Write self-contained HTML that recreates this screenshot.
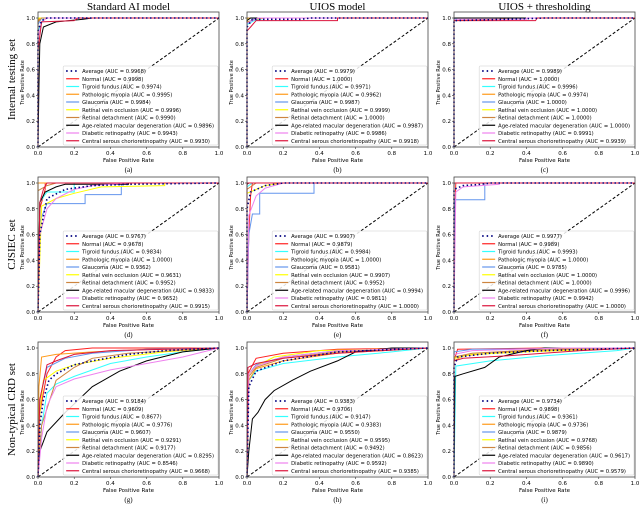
<!DOCTYPE html>
<html><head><meta charset="utf-8"><style>
body{margin:0;background:#fff;width:640px;height:505px;overflow:hidden}
svg{display:block}
.t{font-family:"Liberation Serif",serif}
.s{font-family:"DejaVu Sans","Liberation Sans",sans-serif}
</style></head><body>
<svg id="chart" width="640" height="505" viewBox="0 0 640 505" xmlns="http://www.w3.org/2000/svg"></svg>
<script>
const colTitles=["Standard AI model","UIOS model","UIOS + thresholding"];
const rowTitles=["Internal testing set","CJSIEC set","Non-typical CRD set"];
const captions=["(a)","(b)","(c)","(d)","(e)","(f)","(g)","(h)","(i)"];
const classNames=["Average","Normal","Tigroid fundus","Pathologic myopia","Glaucoma","Retinal vein occlusion","Retinal detachment","Age-related macular degeneration","Diabetic retinopathy","Central serous chorioretinopathy"];
const classColors=["#00007f","#ff2020","#33ffff","#ff9a1a","#6495ed","#ffff00","#cd853f","#000000","#ee82ee","#dc143c"];
const xTicks=[0,0.2,0.4,0.6,0.8,1.0];
const xTickLabels=["0.0","0.2","0.4","0.6","0.8","1.0"];
const yTicks=[0,0.2,0.4,0.6,0.8,1.0];
const yTickLabels=["0.0","0.2","0.4","0.6","0.8","1.0"];
const aucA=["0.9968","0.9998","0.9974","0.9995","0.9984","0.9996","0.9990","0.9896","0.9943","0.9930"];
const aucB=["0.9979","1.0000","0.9971","0.9962","0.9987","0.9999","1.0000","0.9987","0.9986","0.9918"];
const aucC=["0.9989","1.0000","0.9996","0.9974","1.0000","1.0000","1.0000","1.0000","0.9991","0.9939"];
const aucD=["0.9767","0.9678","0.9834","1.0000","0.9362","0.9631","0.9952","0.9833","0.9652","0.9915"];
const aucE=["0.9907","0.9879","0.9984","1.0000","0.9581","0.9907","0.9952","0.9994","0.9811","1.0000"];
const aucF=["0.9977","0.9989","0.9993","1.0000","0.9785","1.0000","1.0000","0.9996","0.9942","1.0000"];
const aucG=["0.9184","0.9609","0.8677","0.9776","0.9607","0.9291","0.9177","0.8295","0.8546","0.9668"];
const aucH=["0.9383","0.9706","0.9147","0.9383","0.9550","0.9595","0.9492","0.8623","0.9592","0.9385"];
const aucI=["0.9734","0.9898","0.9361","0.9736","0.9879","0.9768","0.9856","0.9617","0.9890","0.9579"];
const curvesA=[[[0,0],[0,0.9],[0.02,0.98],[0.05,1],[1,1]],[[0,0],[0,0.97],[0.01,1],[1,1]],[[0,0],[0,0.9],[0.02,0.96],[0.03,1],[1,1]],[[0,0],[0,0.98],[0.01,1],[1,1]],[[0,0],[0,0.95],[0.02,1],[1,1]],[[0,0],[0,0.99],[0.005,1],[1,1]],[[0,0],[0,0.97],[0.02,1],[1,1]],[[0,0],[0.005,0.45],[0.01,0.8],[0.03,0.93],[0.1,0.97],[0.25,0.99],[0.3,1],[1,1]],[[0,0],[0,0.85],[0.02,0.97],[0.05,1],[1,1]],[[0,0],[0,0.75],[0.02,0.97],[0.2,0.98],[0.22,1],[1,1]]];
const curvesB=[[[0,0],[0,0.93],[0.03,0.99],[0.3,0.99],[0.35,1],[1,1]],[[0,0],[0,1],[1,1]],[[0,0],[0,0.95],[0.04,0.98],[0.1,1],[1,1]],[[0,0],[0,0.97],[0.05,0.99],[0.1,1],[1,1]],[[0,0],[0,0.96],[0.05,1],[1,1]],[[0,0],[0,0.99],[0.01,1],[1,1]],[[0,0],[0,1],[1,1]],[[0,0],[0,0.98],[0.02,1],[1,1]],[[0,0],[0,0.96],[0.06,1],[1,1]],[[0,0],[0,0.9],[0.02,0.93],[0.05,0.98],[0.5,0.98],[0.5,1],[1,1]]];
const curvesC=[[[0,0],[0,0.98],[0.3,0.99],[0.5,1],[1,1]],[[0,0],[0,1],[1,1]],[[0,0],[0,0.99],[0.02,1],[1,1]],[[0,0],[0,0.98],[0.25,0.99],[0.3,1],[1,1]],[[0,0],[0,1],[1,1]],[[0,0],[0,1],[1,1]],[[0,0],[0,1],[1,1]],[[0,0],[0,1],[1,1]],[[0,0],[0,0.99],[0.4,0.99],[0.4,1],[1,1]],[[0,0],[0,0.98],[0.45,0.98],[0.46,1],[1,1]]];
const curvesD=[[[0,0],[0.01,0.6],[0.05,0.88],[0.15,0.95],[0.3,0.98],[0.5,0.99],[1,1]],[[0,0],[0.01,0.8],[0.04,0.95],[0.04,1],[1,1]],[[0,0],[0.01,0.85],[0.05,0.93],[0.2,0.93],[0.2,1],[1,1]],[[0,0],[0,1],[1,1]],[[0,0],[0.01,0.7],[0.05,0.84],[0.26,0.84],[0.26,0.91],[0.46,0.91],[0.46,1],[1,1]],[[0,0],[0.02,0.82],[0.1,0.88],[0.2,0.92],[0.35,0.97],[0.7,0.98],[0.7,1],[1,1]],[[0,0],[0,0.94],[0.05,0.98],[0.1,1],[1,1]],[[0,0],[0.01,0.85],[0.04,0.93],[0.1,0.97],[0.15,0.99],[0.5,0.99],[0.5,1],[1,1]],[[0,0],[0.01,0.6],[0.05,0.8],[0.1,0.88],[0.2,0.95],[0.3,0.98],[0.5,1],[1,1]],[[0,0],[0.01,0.85],[0.03,0.95],[0.05,1],[1,1]]];
const curvesE=[[[0,0],[0,0.8],[0.02,0.93],[0.1,0.98],[0.2,1],[1,1]],[[0,0],[0.01,0.6],[0.02,0.9],[0.03,1],[1,1]],[[0,0],[0,0.97],[0.03,1],[1,1]],[[0,0],[0,1],[1,1]],[[0,0],[0.01,0.6],[0.03,0.76],[0.07,0.76],[0.07,0.92],[0.37,0.92],[0.37,1],[1,1]],[[0,0],[0,0.92],[0.1,0.98],[0.2,1],[1,1]],[[0,0],[0,0.95],[0.05,1],[1,1]],[[0,0],[0,0.99],[0.01,1],[1,1]],[[0,0],[0.01,0.75],[0.05,0.9],[0.1,0.96],[0.2,1],[1,1]],[[0,0],[0,1],[1,1]]];
const curvesF=[[[0,0],[0,0.95],[0.05,0.98],[0.15,0.99],[0.2,1],[1,1]],[[0,0],[0.003,0.7],[0.01,1],[1,1]],[[0,0],[0,0.99],[0.01,1],[1,1]],[[0,0],[0,1],[1,1]],[[0,0],[0.005,0.87],[0.17,0.87],[0.17,1],[1,1]],[[0,0],[0,1],[1,1]],[[0,0],[0,1],[1,1]],[[0,0],[0,1],[1,1]],[[0,0],[0.01,0.93],[0.05,0.97],[0.25,0.99],[0.25,1],[1,1]],[[0,0],[0,1],[1,1]]];
const curvesG=[[[0,0],[0.01,0.4],[0.03,0.6],[0.06,0.75],[0.1,0.8],[0.2,0.87],[0.3,0.9],[0.5,0.95],[0.7,0.98],[1,1]],[[0,0],[0.01,0.5],[0.05,0.8],[0.1,0.93],[0.15,0.98],[0.3,1],[1,1]],[[0,0],[0.02,0.4],[0.05,0.65],[0.1,0.72],[0.2,0.78],[0.4,0.88],[0.6,0.93],[0.8,0.97],[1,1]],[[0,0],[0.005,0.7],[0.02,0.93],[0.1,0.95],[0.3,0.97],[0.6,0.99],[1,1]],[[0,0],[0.01,0.6],[0.05,0.85],[0.15,0.92],[0.3,0.96],[0.6,0.99],[1,1]],[[0,0],[0.01,0.5],[0.03,0.75],[0.1,0.82],[0.2,0.87],[0.4,0.92],[0.7,0.97],[1,1]],[[0,0],[0.02,0.4],[0.1,0.75],[0.2,0.85],[0.3,0.92],[0.5,0.96],[1,1]],[[0,0],[0.01,0.2],[0.05,0.35],[0.15,0.5],[0.3,0.7],[0.45,0.82],[0.6,0.9],[0.8,0.97],[1,1]],[[0,0],[0.02,0.3],[0.05,0.55],[0.1,0.7],[0.2,0.76],[0.4,0.83],[0.6,0.88],[0.8,0.93],[1,1]],[[0,0],[0.01,0.6],[0.05,0.87],[0.1,0.9],[0.2,0.95],[0.4,0.98],[1,1]]];
const curvesH=[[[0,0],[0.01,0.7],[0.05,0.82],[0.2,0.9],[0.5,0.97],[1,1]],[[0,0],[0.005,0.8],[0.05,0.92],[0.2,0.96],[0.5,0.99],[1,1]],[[0,0],[0.01,0.75],[0.05,0.82],[0.2,0.88],[0.5,0.93],[0.8,0.97],[1,1]],[[0,0],[0.01,0.75],[0.05,0.84],[0.2,0.9],[0.5,0.96],[1,1]],[[0,0],[0.01,0.8],[0.05,0.87],[0.2,0.93],[0.5,0.98],[1,1]],[[0,0],[0.01,0.8],[0.05,0.86],[0.15,0.93],[0.4,0.98],[1,1]],[[0,0],[0.01,0.78],[0.05,0.85],[0.2,0.92],[0.5,0.97],[1,1]],[[0,0],[0.01,0.2],[0.03,0.45],[0.06,0.5],[0.1,0.6],[0.15,0.67],[0.25,0.75],[0.35,0.82],[0.5,0.9],[0.6,0.97],[0.8,1],[1,1]],[[0,0],[0.01,0.8],[0.05,0.86],[0.2,0.93],[0.5,0.98],[1,1]],[[0,0],[0.005,0.85],[0.05,0.88],[0.2,0.92],[0.5,0.96],[1,1]]];
const curvesI=[[[0,0],[0,0.85],[0.02,0.93],[0.2,0.96],[0.5,0.98],[1,1]],[[0,0],[0,0.9],[0.02,0.99],[0.5,1],[1,1]],[[0,0],[0.01,0.86],[0.2,0.9],[0.5,0.94],[0.9,0.98],[1,1]],[[0,0],[0,0.9],[0.05,0.94],[0.3,0.97],[0.7,0.99],[1,1]],[[0,0],[0,0.97],[0.1,0.99],[1,1]],[[0,0],[0,0.92],[0.1,0.95],[0.4,0.97],[1,1]],[[0,0],[0,0.93],[0.1,0.96],[0.5,0.99],[1,1]],[[0,0],[0.005,0.78],[0.05,0.8],[0.17,0.85],[0.25,0.93],[0.4,0.98],[0.5,1],[1,1]],[[0,0],[0,0.95],[0.1,0.98],[0.6,1],[1,1]],[[0,0],[0,0.9],[0.05,0.92],[0.3,0.94],[0.7,0.98],[1,1]]];
const panelAucs=[aucA,aucB,aucC,aucD,aucE,aucF,aucG,aucH,aucI];
const panelCurves=[curvesA,curvesB,curvesC,curvesD,curvesE,curvesF,curvesG,curvesH,curvesI];

const NS="http://www.w3.org/2000/svg";
const svg=document.getElementById('chart');
function mk(tag,attrs,parent,text){const e=document.createElementNS(NS,tag);for(const k in attrs)e.setAttribute(k,attrs[k]);if(text!==undefined)e.textContent=text;(parent||svg).appendChild(e);return e;}
const colX=[38,247,454], PW=181;
function rowTop(r){return 12+r*165;}
function yZero(r){return 147+r*165;}
function yOne(r){return 18+r*165;}

colTitles.forEach((t,i)=>{const e=mk('text',{x:colX[i]+PW/2,y:10,'text-anchor':'middle','font-size':'11',class:'t'},svg,t);

});
rowTitles.forEach((t,r)=>{const cy=(rowTop(r)+yZero(r))/2;const e=mk('text',{x:0,y:0,transform:`translate(15,${cy}) rotate(-90)`,'text-anchor':'middle','font-size':'11',class:'t'},svg,t);

});

for(let p=0;p<9;p++){
  const r=Math.floor(p/3),c=p%3;
  const x0=colX[c];
  const sx=v=>x0+v*PW;
  const sy=v=>yZero(r)-v*(yZero(r)-yOne(r));
  const g=mk('g',{});
  
  
  xTicks.forEach((v,i)=>{mk('line',{x1:sx(v),x2:sx(v),y1:yZero(r),y2:yZero(r)+2,stroke:'#000','stroke-width':0.5},g);
    const t=mk('text',{x:sx(v),y:yZero(r)+8,'text-anchor':'middle','font-size':'5.5',class:'s'},g,xTickLabels[i]);
    
    });
  yTicks.forEach((v,i)=>{mk('line',{x1:x0-2,x2:x0,y1:sy(v),y2:sy(v),stroke:'#000','stroke-width':0.5},g);
    const t=mk('text',{x:x0-3,y:sy(v)+2,'text-anchor':'end','font-size':'5.5',class:'s'},g,yTickLabels[i]);
    
    });
  const xl=mk('text',{x:x0+PW/2,y:yZero(r)+15,'text-anchor':'middle','font-size':'5.5',class:'s'},g,'False Positive Rate');
  
  
  const yl=mk('text',{transform:`translate(${x0-14},${(yOne(r)+yZero(r))/2}) rotate(-90)`,'text-anchor':'middle','font-size':'5',class:'s'},g,'True Positive Rate');
  
  
  const cap=mk('text',{x:x0+PW/2,y:yZero(r)+25,'text-anchor':'middle','font-size':'7',class:'t'},g,captions[p]);
  
  
  const dg=mk('line',{x1:sx(0),y1:sy(0),x2:sx(1),y2:sy(1),stroke:'#000','stroke-width':1,'stroke-dasharray':'3,2'},g);
  
  
  const order=[1,2,3,4,5,6,7,8,9,0];
  order.forEach(k=>{
    const pts=panelCurves[p][k].map(q=>sx(q[0]).toFixed(1)+','+sy(q[1]).toFixed(1)).join(' ');
    const pl=mk('polyline',{points:pts,fill:'none',stroke:classColors[k],'stroke-width':k==0?1.6:1,'stroke-dasharray':k==0?'1.5,2.5':'none'},g);
    
    
  });
  mk('rect',{x:x0,y:rowTop(r),width:PW,height:yZero(r)-rowTop(r),fill:'none',stroke:'#444','stroke-width':0.8},g);
  const lh=79, ly=yOne(r)+48;
  const lg=mk('g',{},g);
  
  
  const bg=mk('rect',{x:0,y:ly,width:10,height:lh,fill:'#fff','fill-opacity':0.85,stroke:'#ccc','stroke-width':0.5,rx:1},lg);
  const items=[];let maxW=0;
  classNames.forEach((n,k)=>{
    const yy=ly+5+k*7.75;
    const ln=mk('line',{x1:0,x2:13,y1:yy,y2:yy,stroke:classColors[k],'stroke-width':k==0?1.8:1.2,'stroke-dasharray':k==0?'1.5,3':'none'},lg);
    
    
    const t=mk('text',{x:0,y:yy+2,'font-size':'5.2',class:'s'},lg,`${n} (AUC = ${panelAucs[p][k]})`);
    
    
    maxW=Math.max(maxW,t.getComputedTextLength());
    items.push([ln,t]);
  });
  const lw=Math.min(PW-4,maxW+23);
  const lx=x0+PW-lw-1;
  bg.setAttribute('x',lx);bg.setAttribute('width',lw);
  items.forEach(([ln,t])=>{ln.setAttribute('x1',lx+3);ln.setAttribute('x2',lx+16);t.setAttribute('x',lx+19);});
}
</script>
</body></html>
